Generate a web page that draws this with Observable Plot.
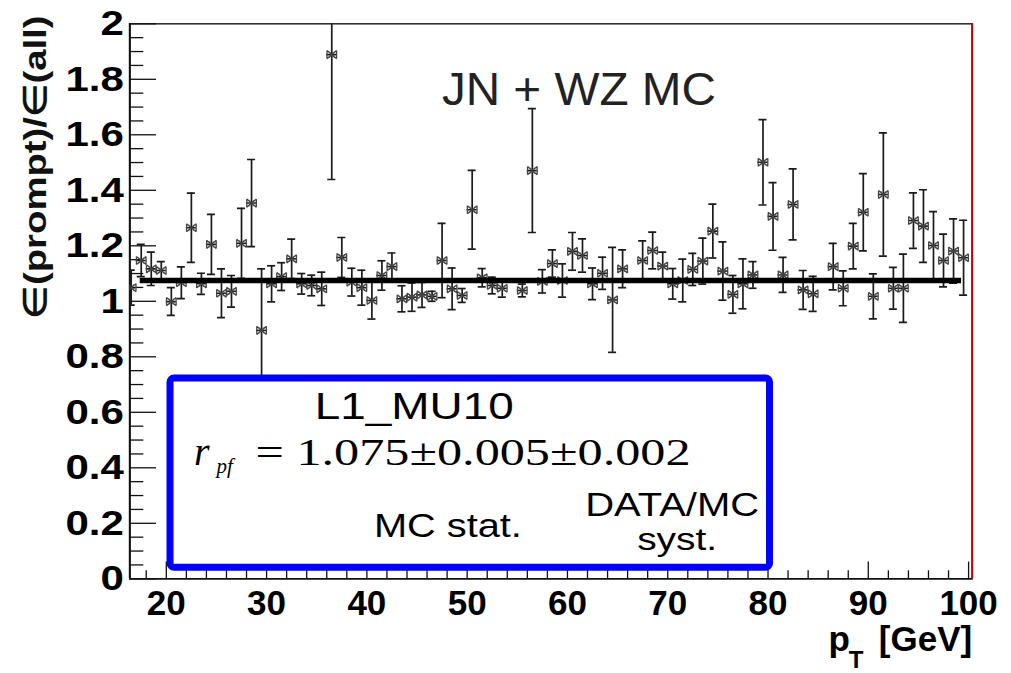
<!DOCTYPE html>
<html>
<head>
<meta charset="utf-8">
<script src="https://cdn.jsdelivr.net/npm/d3@7"></script>
<script src="https://cdn.jsdelivr.net/npm/@observablehq/plot@0.6"></script>
<style>
html, body { margin: 0; padding: 0; background: #fff; }
#chart { width: 1011px; height: 673px; overflow: hidden; }
</style>
</head>
<body>
<div id="chart"></div>
<script>
// ---------------- data ----------------
const binCenters = [16.5,17.5,18.5,19.5,20.5,21.5,22.5,23.5,24.5,25.5,26.5,27.5,28.5,29.5,30.5,31.5,32.5,33.5,34.5,35.5,36.5,37.5,38.5,39.5,40.5,41.5,42.5,43.5,44.5,45.5,46.5,47.5,48.5,49.5,50.5,51.5,52.5,53.5,55.5,56.5,57.5,58.5,59.5,60.5,61.5,62.5,63.5,64.5,65.5,67.5,68.5,69.5,70.5,71.5,72.5,73.5,74.5,75.5,76.5,77.5,78.5,79.5,80.5,81.5,82.5,83.5,84.5,86.5,87.5,88.5,89.5,90.5,91.5,92.5,93.5,94.5,95.5,96.5,97.5,98.5,99.5];
const ratio = [1.049,1.147,1.117,1.111,0.999,1.067,1.265,1.063,1.205,1.029,1.036,1.209,1.354,0.895,1.063,1.089,1.153,1.063,1.057,1.045,1.889,1.158,1.069,1.049,1.003,1.093,1.125,1.009,1.015,1.023,1.018,1.147,1.045,1.021,1.330,1.085,1.057,1.047,1.039,1.471,1.072,1.136,1.075,1.180,1.165,1.063,1.101,1.005,1.117,1.147,1.183,1.127,1.063,1.075,1.115,1.145,1.253,1.109,1.025,1.063,1.095,1.501,1.306,1.095,1.349,1.041,1.027,1.125,1.047,1.199,1.321,1.018,1.385,1.047,1.047,1.291,1.271,1.201,1.147,1.181,1.157];
const ratioErr = [0.063,0.058,0.060,0.032,0.050,0.057,0.125,0.038,0.108,0.088,0.057,0.126,0.157,0.222,0.065,0.050,0.071,0.037,0.037,0.060,0.450,0.072,0.050,0.063,0.067,0.053,0.049,0.047,0.051,0.045,0.018,0.134,0.075,0.025,0.142,0.033,0.030,0.032,0.023,0.223,0.042,0.049,0.060,0.068,0.060,0.057,0.058,0.189,0.068,0.071,0.066,0.050,0.055,0.077,0.058,0.083,0.097,0.105,0.068,0.090,0.048,0.154,0.122,0.063,0.128,0.070,0.063,0.084,0.063,0.082,0.139,0.081,0.222,0.075,0.123,0.100,0.131,0.122,0.095,0.116,0.135];
const binHalfWidth = 0.5;
const fitValue = 1.075;
const fitRange = [17.4, 99.3];
const xDomain = [16.36, 100.36];
const yDomain = [0, 2];
const xTickValues = [20, 30, 40, 50, 60, 70, 80, 90, 100];
const xMinorTickValues = [18,22,24,26,28,32,34,36,38,42,44,46,48,52,54,56,58,62,64,66,68,72,74,76,78,82,84,86,88,92,94,96,98];
const yTickValues = [0, 0.2, 0.4, 0.6, 0.8, 1, 1.2, 1.4, 1.6, 1.8, 2];
const yMinorTickValues = [0.05,0.1,0.15,0.25,0.3,0.35,0.45,0.5,0.55,0.65,0.7,0.75,0.85,0.9,0.95,1.05,1.1,1.15,1.25,1.3,1.35,1.45,1.5,1.55,1.65,1.7,1.75,1.85,1.9,1.95];
const titleText = "JN + WZ MC";
const yTitle = "\u2208(prompt)/\u2208(all)";
const xTitleMain = "p";
const xTitleSub = "T";
const xTitleUnit = "[GeV]";
const triggerLabel = "L1_MU10";
const rSymbol = "r";
const rSub = "pf";
const rValue = "= 1.075\u00b10.005\u00b10.002";
const statLabel = "MC stat.";
const systLabel1 = "DATA/MC";
const systLabel2 = "syst.";

// ---------------- build ----------------
const points = binCenters.map((x, i) => ({x, v: ratio[i], e: ratioErr[i]}));

const W = 1011, H = 673;
const mL = 129.3, mR = 39.3, mT = 23.3, mB = 94.7;
const frameW = W - mL - mR, frameH = H - mT - mB;

const sans = "'Liberation Sans', Arial, Helvetica, sans-serif";
const serif = "'Liberation Serif', 'Times New Roman', serif";

// marker: end caps of the horizontal error bar plus a small x
const bowtie = {
  draw(ctx, size) {
    const r = Math.sqrt(size / Math.PI);
    const c = r * 0.85, s = r * 0.6;
    ctx.moveTo(-r, -c); ctx.lineTo(-r, c);
    ctx.moveTo(r, -c); ctx.lineTo(r, c);
    ctx.moveTo(-s, -s); ctx.lineTo(s, s);
    ctx.moveTo(-s, s); ctx.lineTo(s, -s);
    ctx.moveTo(-r, -c); ctx.lineTo(0, 0); ctx.lineTo(-r, c);
    ctx.moveTo(r, -c); ctx.lineTo(0, 0); ctx.lineTo(r, c);
  }
};

const ink = "#1a1a1a";

const svg = Plot.plot({
  width: W, height: H,
  marginLeft: mL, marginRight: mR, marginTop: mT, marginBottom: mB,
  x: {domain: xDomain, axis: null},
  y: {domain: yDomain, axis: null},
  style: {fontFamily: sans, background: "#fff", overflow: "visible", color: "#000"},
  marks: [
    Plot.frame({stroke: "#333", strokeWidth: 1.6}),
    // inward ticks
    Plot.ruleX(xMinorTickValues, {x: d => d, insetTop: frameH - 8, stroke: "#111", strokeWidth: 1.3}),
    Plot.ruleX(xTickValues, {x: d => d, insetTop: frameH - 16.7, stroke: "#111", strokeWidth: 1.3}),
    Plot.ruleY(yMinorTickValues, {y: d => d, insetRight: frameW - 14, stroke: "#111", strokeWidth: 1.3}),
    Plot.ruleY(yTickValues, {y: d => d, insetRight: frameW - 26.7, stroke: "#111", strokeWidth: 1.3}),
    // axis lines
    Plot.ruleX([xDomain[0]], {x: d => d, stroke: "#111", strokeWidth: 2}),
    Plot.ruleY([yDomain[0]], {y: d => d, stroke: "#111", strokeWidth: 1.6}),
    Plot.ruleX([xDomain[1]], {x: d => d, stroke: "#cc0000", strokeWidth: 2}),
    // tick labels
    Plot.text(xTickValues, {x: d => d, frameAnchor: "bottom", dy: 25, text: d => String(d), fontSize: 35, fontWeight: "bold", lineAnchor: "middle", fill: "#000"}),
    Plot.text(yTickValues, {y: d => d, frameAnchor: "left", dx: -6, text: d => String(d), fontSize: 35, fontWeight: "bold", textAnchor: "end", lineAnchor: "middle", fill: "#000"}),
    // data: vertical error bars and caps
    Plot.ruleX(points, {x: "x", y1: d => d.v - d.e, y2: d => d.v + d.e, stroke: ink, strokeWidth: 1.7, clip: true}),
    Plot.ruleY(points, {y: d => d.v - d.e, x1: d => d.x - 0.4, x2: d => d.x + 0.4, stroke: ink, strokeWidth: 1.7, clip: true}),
    Plot.ruleY(points, {y: d => d.v + d.e, x1: d => d.x - 0.4, x2: d => d.x + 0.4, stroke: ink, strokeWidth: 1.7, clip: true}),
    // horizontal bin-width bars
    Plot.ruleY(points, {y: "v", x1: d => d.x - binHalfWidth, x2: d => d.x + binHalfWidth, stroke: ink, strokeWidth: 1.6, clip: true}),
    Plot.dot(points, {x: "x", y: "v", r: 4.8, symbol: bowtie, fill: "none", stroke: "#444", strokeWidth: 1.3, clip: true}),
    // fit
    Plot.ruleY([fitValue], {y: d => d, x1: () => fitRange[0], x2: () => fitRange[1], stroke: "#000", strokeWidth: 5.5}),
    // title
    Plot.text([titleText], {x: () => 61.14, y: () => 1.709, text: d => d, fontSize: 47, fill: "#222", lineAnchor: "bottom", textAnchor: "middle"}),
    // info box
    Plot.rect([triggerLabel], {x1: () => 20.42, x2: () => 80.2, y1: () => 0.04, y2: () => 0.722, fill: "#fff", stroke: "#0000ff", strokeWidth: 7, rx: 4}),
    Plot.text([triggerLabel], {x: () => 44.72, y: () => 0.5766, text: d => d, fontSize: 37, fill: "#000", lineAnchor: "bottom", textAnchor: "middle"}),
    Plot.text([rSymbol], {x: () => 22.77, y: () => 0.4083, text: d => d, fontSize: 40, fontFamily: serif, fontStyle: "italic", fill: "#000", lineAnchor: "bottom", textAnchor: "start"}),
    Plot.text([rSub], {x: () => 25.0, y: () => 0.3795, text: d => d, fontSize: 21, fontFamily: serif, fontStyle: "italic", fill: "#000", lineAnchor: "bottom", textAnchor: "start"}),
    Plot.text([rValue], {x: () => 28.9, y: () => 0.4083, text: d => d, fontSize: 38, fontFamily: serif, fill: "#000", lineAnchor: "bottom", textAnchor: "start"}),
    Plot.text([statLabel], {x: () => 48.08, y: () => 0.1499, text: d => d, fontSize: 33, fill: "#000", lineAnchor: "bottom", textAnchor: "middle"}),
    Plot.text([systLabel1], {x: () => 70.44, y: () => 0.226, text: d => d, fontSize: 33, fill: "#000", lineAnchor: "bottom", textAnchor: "middle"}),
    Plot.text([systLabel2], {x: () => 70.94, y: () => 0.104, text: d => d, fontSize: 31, fill: "#000", lineAnchor: "bottom", textAnchor: "middle"}),
    // axis titles
    Plot.text([yTitle], {frameAnchor: "top-left", dx: -94.3, dy: -8.3, rotate: -90, text: d => d, fontSize: 32, fontWeight: "bold", fill: "#111", textAnchor: "end", lineAnchor: "middle"}),
    Plot.text([xTitleMain], {frameAnchor: "bottom-right", dx: -143.7, dy: 71.7, text: d => d, fontSize: 35, fontWeight: "bold", fill: "#000", textAnchor: "start", lineAnchor: "bottom"}),
    Plot.text([xTitleSub], {frameAnchor: "bottom-right", dx: -123.5, dy: 89.5, text: d => d, fontSize: 24, fontWeight: "bold", fill: "#000", textAnchor: "start", lineAnchor: "bottom"}),
    Plot.text([xTitleUnit], {frameAnchor: "bottom-right", dx: 0, dy: 71.7, text: d => d, fontSize: 35, fontWeight: "bold", fill: "#000", textAnchor: "end", lineAnchor: "bottom"})
  ]
});

document.getElementById("chart").appendChild(svg);

// stretch the annotation texts to the widths seen in the reference
const stretch = new Map([
  [titleText, 274], [triggerLabel, 199], [rValue, 435], [statLabel, 148],
  [systLabel1, 174], [systLabel2, 80], [yTitle, 303]
]);
const yLabelSet = new Set(yTickValues.map(String));
d3.select(svg).selectAll("text").each(function () {
  const t = this.textContent;
  if (stretch.has(t)) {
    d3.select(this).attr("textLength", stretch.get(t)).attr("lengthAdjust", "spacingAndGlyphs");
  } else if (yLabelSet.has(t)) {
    const len = this.getComputedTextLength();
    d3.select(this).attr("textLength", len * 1.2).attr("lengthAdjust", "spacingAndGlyphs");
  }
});
</script>
</body>
</html>
